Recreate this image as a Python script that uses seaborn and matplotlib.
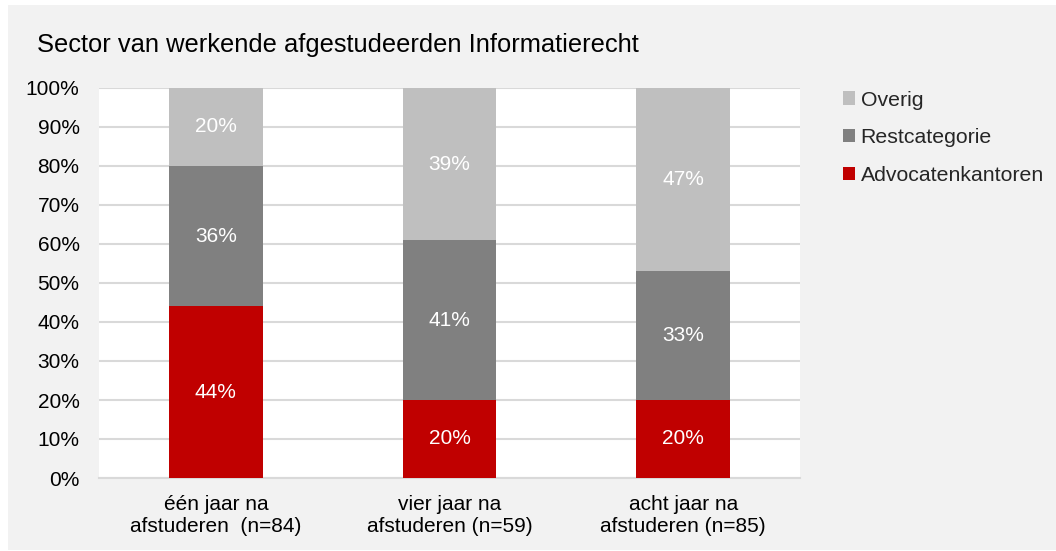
import pandas as pd
import seaborn as sns
import matplotlib.pyplot as plt
from matplotlib.patches import Patch, Rectangle

groups = ['één jaar na\nafstuderen  (n=84)', 'vier jaar na\nafstuderen (n=59)', 'acht jaar na\nafstuderen (n=85)']
advocaten = [44, 20, 20]
rest = [36, 41, 33]
overig = [20, 39, 47]
series_names = ['Advocatenkantoren', 'Restcategorie', 'Overig']
colors = ['#C00000', '#808080', '#BFBFBF']

df = pd.DataFrame({'groep': groups, 'Advocatenkantoren': advocaten,
                   'Restcategorie': rest, 'Overig': overig})
cum = df[series_names].cumsum(axis=1)

sns.set_style('white')
plt.rcParams['font.family'] = ['Liberation Sans', 'DejaVu Sans']

fig = plt.figure(figsize=(10.56, 5.51), dpi=100)
fig.patch.set_facecolor('white')
# grey chart area with thin white margin on left/top
fig.patches.append(Rectangle((8 / 1056, 1 / 551), 1, 545 / 551, transform=fig.transFigure,
                             facecolor='#F2F2F2', edgecolor='none', zorder=-10))
ax = fig.add_axes([99 / 1056, 1 - 478 / 551, 701 / 1056, 390 / 551])
ax.set_facecolor('white')

# stacked bars: draw cumulative totals from top layer down
for name, col in reversed(list(zip(series_names, colors))):
    sns.barplot(x=df['groep'], y=cum[name], color=col, width=0.4, saturation=1,
                linewidth=0, ax=ax, zorder=3)

# value labels in the middle of each segment
for name in series_names:
    for i, v in enumerate(df[name]):
        mid = cum[name][i] - v / 2
        ax.text(i, mid, f'{v}%', ha='center', va='center', color='white',
                fontsize=15, zorder=4)

ax.set_ylim(0, 100)
ax.set_xlim(-0.5, 2.5)
ax.set_yticks(range(0, 101, 10))
ax.set_yticklabels([f'{t}%' for t in range(0, 101, 10)])
ax.yaxis.grid(True, color='#D9D9D9', linewidth=1.5, zorder=0)
ax.set_axisbelow(True)
for s in ['left', 'right', 'top']:
    ax.spines[s].set_visible(False)
ax.spines['bottom'].set_color('#D9D9D9')
ax.spines['bottom'].set_linewidth(1.5)
ax.tick_params(axis='both', length=0, labelsize=15, colors='black')
ax.tick_params(axis='y', pad=14)
ax.tick_params(axis='x', pad=12)
ax.set_xlabel('')
ax.set_ylabel('')

fig.text(37 / 1056, 1 - 45 / 551, 'Sector van werkende afgestudeerden Informatierecht',
         fontsize=18.4, va='center', ha='left', color='black')

handles = [Patch(facecolor=c, edgecolor='none') for c in colors]
leg = fig.legend(handles[::-1], series_names[::-1], loc='upper left',
                 bbox_to_anchor=(834 / 1056, 1 - 82 / 551), frameon=False,
                 fontsize=15.3, handlelength=0.6, handleheight=0.6,
                 handletextpad=0.25, labelspacing=0.88, borderaxespad=0)

fig.savefig('out.png', dpi=100, facecolor=fig.get_facecolor())
